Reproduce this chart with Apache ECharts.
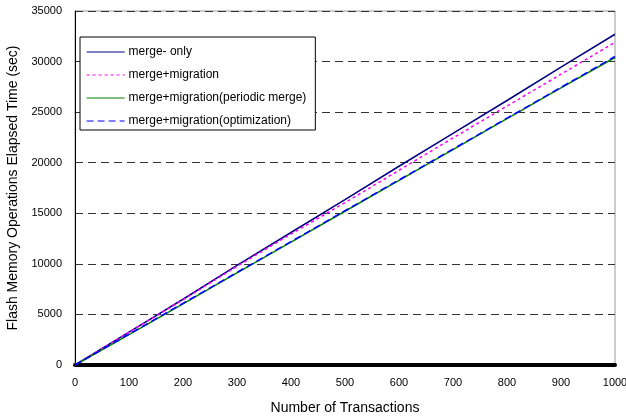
<!DOCTYPE html>
<html>
<head>
<meta charset="utf-8">
<script src="https://cdn.jsdelivr.net/npm/echarts@6/dist/echarts.min.js"></script>
<style>
  html, body { margin: 0; padding: 0; background: #fff; }
  #chart { width: 626px; height: 417px; }
</style>
</head>
<body>
<div id="chart"></div>
<script>
// Number of transactions at each sample
const transactions = [0, 100, 200, 300, 400, 500, 600, 700, 800, 900, 1000];

// Elapsed time (sec) for each strategy
const mergeOnly        = [0, 3250, 6500, 9850, 13100, 16350, 19650, 22900, 26150, 29450, 32700];
const mergeMigration   = [0, 3250, 6450, 9750, 12950, 16050, 19250, 22450, 25600, 28750, 31900];
const periodicMerge    = [0, 3000, 6050, 9100, 12150, 15200, 18250, 21300, 24350, 27400, 30400];
const optimization     = [0, 3050, 6100, 9150, 12200, 15250, 18300, 21350, 24400, 27450, 30500];

const seriesNames = [
  'merge- only',
  'merge+migration',
  'merge+migration(periodic merge)',
  'merge+migration(optimization)'
];

const pairs = arr => transactions.map((t, i) => [t, arr[i]]);

const font = '"Liberation Sans", Arial, sans-serif';

const chart = echarts.init(document.getElementById('chart'), null, { renderer: 'canvas' });

chart.setOption({
  animation: false,
  backgroundColor: '#fff',
  grid: {
    left: 75, right: 11, top: 11, bottom: 52,
    outerBoundsMode: 'none',
    containLabel: false,
    show: true, borderColor: '#999', borderWidth: 1
  },
  legend: {
    orient: 'vertical',
    left: 80, top: 37,
    padding: [8, 9, 2, 6],
    itemWidth: 38, itemHeight: 14, itemGap: 9,
    backgroundColor: '#fff',
    borderColor: '#000', borderWidth: 1,
    itemStyle: { opacity: 0, borderWidth: 0 },
    lineStyle: { width: 1.2 },
    textStyle: { fontFamily: font, fontSize: 12, color: '#000', padding: [0, 0, 0, -1], lineHeight: 14 },
    data: seriesNames
  },
  xAxis: {
    type: 'value',
    min: 0, max: 1000, interval: 100,
    name: 'Number of Transactions',
    nameLocation: 'middle',
    nameGap: 36,
    nameTextStyle: { fontFamily: font, fontSize: 14, color: '#000' },
    axisLine: { show: true, lineStyle: { color: '#000', width: 4 } },
    axisTick: { show: false },
    axisLabel: { fontFamily: font, fontSize: 11, color: '#000', margin: 12, formatter: v => String(v) },
    splitLine: { show: false }
  },
  yAxis: {
    type: 'value',
    min: 0, max: 35000, interval: 5000,
    name: 'Flash Memory Operations Elapsed Time (sec)',
    nameLocation: 'middle',
    nameGap: 54,
    nameTextStyle: { fontFamily: font, fontSize: 14, color: '#000' },
    axisLine: { show: true, lineStyle: { color: '#000', width: 1 } },
    axisTick: { show: false },
    axisLabel: { fontFamily: font, fontSize: 11, color: '#000', margin: 13, formatter: v => String(v) },
    splitLine: { show: true, lineStyle: { color: '#333', width: 1, type: [8, 5] } }
  },
  series: [
    {
      name: seriesNames[0], type: 'line', data: pairs(mergeOnly),
      symbol: 'none', color: '#000080',
      lineStyle: { color: '#000080', width: 1.5, type: 'solid' }
    },
    {
      name: seriesNames[1], type: 'line', data: pairs(mergeMigration),
      symbol: 'none', color: '#ff00ff',
      lineStyle: { color: '#ff00ff', width: 1.5, type: [3, 3] }
    },
    {
      name: seriesNames[2], type: 'line', data: pairs(periodicMerge),
      symbol: 'none', color: '#008000',
      lineStyle: { color: '#008000', width: 1.5, type: 'solid' }
    },
    {
      name: seriesNames[3], type: 'line', data: pairs(optimization),
      symbol: 'none', color: '#0000ff',
      lineStyle: { color: '#0000ff', width: 1.5, type: [7, 4] }
    }
  ]
});
</script>
</body>
</html>
